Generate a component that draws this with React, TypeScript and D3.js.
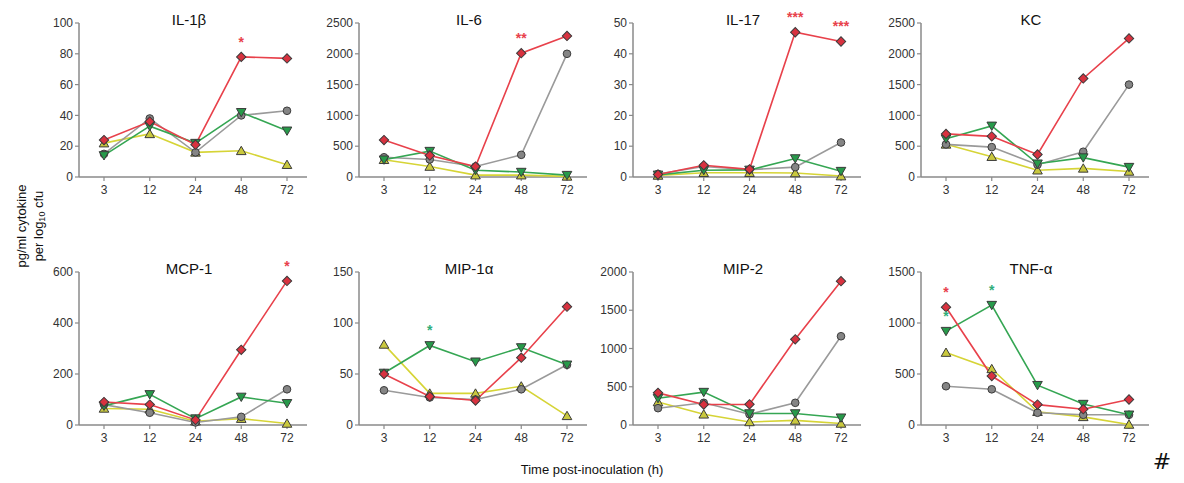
import React from 'react';
import * as d3 from 'd3';

// time points (h)
const times = [3, 12, 24, 48, 72];

// series order: red (diamond), gray (circle), green (down triangle), yellow (up triangle)
const IL1B_RED = [24, 36, 21, 78, 77];
const IL1B_GRAY = [15, 38, 16, 40, 43];
const IL1B_GREEN = [14, 33, 22, 42, 30];
const IL1B_YELLOW = [22, 28, 16, 17, 8];

const IL6_RED = [600, 350, 170, 2010, 2290];
const IL6_GRAY = [320, 285, 170, 360, 2000];
const IL6_GREEN = [280, 420, 110, 80, 30];
const IL6_YELLOW = [280, 170, 30, 30, 10];

const IL17_RED = [0.8, 3.8, 2.5, 47, 44];
const IL17_GRAY = [1, 3.4, 2.4, 3.2, 11.2];
const IL17_GREEN = [0.7, 2.2, 2.3, 6, 1.9];
const IL17_YELLOW = [0.5, 1.4, 1.4, 1.3, 0.3];

const KC_RED = [700, 660, 365, 1600, 2250];
const KC_GRAY = [530, 485, 200, 410, 1500];
const KC_GREEN = [620, 830, 215, 315, 160];
const KC_YELLOW = [530, 330, 110, 140, 90];

const MCP1_RED = [90, 80, 20, 295, 565];
const MCP1_GRAY = [80, 48, 10, 32, 140];
const MCP1_GREEN = [75, 120, 25, 110, 85];
const MCP1_YELLOW = [65, 62, 15, 25, 6];

const MIP1A_RED = [50, 28, 24, 66, 116];
const MIP1A_GRAY = [34, 27, 25, 35, 59];
const MIP1A_GREEN = [51, 78, 62, 76, 59];
const MIP1A_YELLOW = [79, 31, 31, 38, 9];

const MIP2_RED = [420, 268, 270, 1120, 1880];
const MIP2_GRAY = [220, 290, 140, 290, 1160];
const MIP2_GREEN = [350, 430, 150, 150, 95];
const MIP2_YELLOW = [300, 140, 40, 60, 20];

const TNF_RED = [1155, 480, 200, 155, 250];
const TNF_GRAY = [380, 350, 120, 100, 100];
const TNF_GREEN = [920, 1175, 390, 205, 100];
const TNF_YELLOW = [710, 550, 130, 80, 5];

const titles = ['IL-1β', 'IL-6', 'IL-17', 'KC', 'MCP-1', 'MIP-1α', 'MIP-2', 'TNF-α'];
const yMaxes = [100, 2500, 50, 2500, 600, 150, 2000, 1500];
const yTicks = [
  [0, 20, 40, 60, 80, 100],
  [0, 500, 1000, 1500, 2000, 2500],
  [0, 10, 20, 30, 40, 50],
  [0, 500, 1000, 1500, 2000, 2500],
  [0, 200, 400, 600],
  [0, 50, 100, 150],
  [0, 500, 1000, 1500, 2000],
  [0, 500, 1000, 1500],
];
const panelData = [
  [IL1B_RED, IL1B_GRAY, IL1B_GREEN, IL1B_YELLOW],
  [IL6_RED, IL6_GRAY, IL6_GREEN, IL6_YELLOW],
  [IL17_RED, IL17_GRAY, IL17_GREEN, IL17_YELLOW],
  [KC_RED, KC_GRAY, KC_GREEN, KC_YELLOW],
  [MCP1_RED, MCP1_GRAY, MCP1_GREEN, MCP1_YELLOW],
  [MIP1A_RED, MIP1A_GRAY, MIP1A_GREEN, MIP1A_YELLOW],
  [MIP2_RED, MIP2_GRAY, MIP2_GREEN, MIP2_YELLOW],
  [TNF_RED, TNF_GRAY, TNF_GREEN, TNF_YELLOW],
];

// significance marks: panel index, series index, time, label
const stars = [
  { panel: 0, series: 0, time: 48, label: '*' },
  { panel: 1, series: 0, time: 48, label: '**' },
  { panel: 2, series: 0, time: 48, label: '***' },
  { panel: 2, series: 0, time: 72, label: '***' },
  { panel: 4, series: 0, time: 72, label: '*' },
  { panel: 5, series: 2, time: 12, label: '*' },
  { panel: 7, series: 0, time: 3, label: '*' },
  { panel: 7, series: 2, time: 3, label: '*' },
  { panel: 7, series: 2, time: 12, label: '*' },
];

const lineColors = ['#e8414b', '#9a9a9a', '#35a653', '#d6d436'];
const fillColors = ['#d8323f', '#858585', '#279a4a', '#c9c83e'];
const starColors = ['#e8414b', '#9a9a9a', '#2fae7a', '#d6d436'];
const symbols = [d3.symbolSquare, d3.symbolCircle, d3.symbolTriangle, d3.symbolTriangle];
const symSizes = [44, 46, 40, 40];
const rotations = [45, 0, 180, 0];
const drawOrder = [3, 1, 2, 0];

const colX = [79, 359, 633, 921];
const rowTop = [23, 272];
const rowBottom = [177, 425];
const FONT = 'Liberation Sans, Arial, sans-serif';

function Panel({ idx }: { idx: number }) {
  const col = idx % 4;
  const row = Math.floor(idx / 4);
  const ax = colX[col];
  const x = d3.scalePoint<number>().domain(times).range([ax + 25, ax + 208]);
  const y = d3.scaleLinear().domain([0, yMaxes[idx]]).range([rowBottom[row], rowTop[row]]);
  const line = d3
    .line<number>()
    .x((_, i) => x(times[i]) as number)
    .y((d) => y(d));
  const series = panelData[idx];

  return (
    <g>
      <text
        x={ax + 110}
        y={rowTop[row] + 2}
        textAnchor="middle"
        fontSize={15}
        fontFamily={FONT}
        fill="#111"
      >
        {titles[idx]}
      </text>
      {/* axes */}
      <line x1={ax} x2={ax} y1={y(yMaxes[idx])} y2={y(0)} stroke="#8a8a8a" strokeWidth={1.5} />
      <line x1={ax} x2={ax + 228} y1={y(0)} y2={y(0)} stroke="#8a8a8a" strokeWidth={1.5} />
      {yTicks[idx].map((t) => (
        <g key={t}>
          <line x1={ax - 4} x2={ax} y1={y(t)} y2={y(t)} stroke="#8a8a8a" strokeWidth={1.2} />
          <text
            x={ax - 6}
            y={y(t)}
            dy="0.35em"
            textAnchor="end"
            fontSize={12}
            fontFamily={FONT}
            fill="#333"
          >
            {t}
          </text>
        </g>
      ))}
      {times.map((t) => (
        <g key={t}>
          <line x1={x(t)} x2={x(t)} y1={y(0)} y2={y(0) + 4} stroke="#8a8a8a" strokeWidth={1.2} />
          <text
            x={x(t)}
            y={y(0) + 17}
            textAnchor="middle"
            fontSize={12}
            fontFamily={FONT}
            fill="#333"
          >
            {t}
          </text>
        </g>
      ))}
      {drawOrder.map((s) => (
        <path key={'l' + s} d={line(series[s]) || ''} fill="none" stroke={lineColors[s]} strokeWidth={1.6} />
      ))}
      {drawOrder.map((s) =>
        series[s].map((v, i) => {
          const sym = d3.symbol().type(symbols[s]).size(symSizes[s]);
          return (
            <path
              key={'m' + s + '-' + i}
              d={sym() || ''}
              transform={`translate(${x(times[i])},${y(v) + (s === 2 ? -1 : s === 3 ? 1 : 0)}) rotate(${rotations[s]})`}
              fill={fillColors[s]}
              stroke="#3b3b3b"
              strokeWidth={1}
            />
          );
        })
      )}
      {stars
        .filter((st) => st.panel === idx)
        .map((st, k) => (
          <text
            key={'s' + k}
            x={x(st.time)}
            y={y(series[st.series][times.indexOf(st.time)]) - 10}
            textAnchor="middle"
            fontSize={14}
            fontWeight="bold"
            fontFamily={FONT}
            fill={starColors[st.series]}
          >
            {st.label}
          </text>
        ))}
    </g>
  );
}

export default function App() {
  return (
    <svg width={1184} height={483} style={{ position: 'absolute', left: 0, top: 0, background: '#fff' }}>
      {titles.map((_, i) => (
        <Panel key={i} idx={i} />
      ))}
      <text
        transform="translate(21,226) rotate(-90)"
        textAnchor="middle"
        dominantBaseline="central"
        fontSize={13}
        fontFamily={FONT}
        fill="#111"
      >
        pg/ml cytokine
      </text>
      <text
        transform="translate(38,226) rotate(-90)"
        textAnchor="middle"
        dominantBaseline="central"
        fontSize={13}
        fontFamily={FONT}
        fill="#111"
      >
        per log<tspan fontSize={9} dy={4}>10</tspan>
        <tspan dy={-4}> cfu</tspan>
      </text>
      <text x={592} y={474} textAnchor="middle" fontSize={13} fontFamily={FONT} fill="#111">
        Time post-inoculation (h)
      </text>
      <text x={1162} y={469} textAnchor="middle" fontSize={22} fontFamily="DejaVu Sans, sans-serif" fill="#111">
        #
      </text>
    </svg>
  );
}
